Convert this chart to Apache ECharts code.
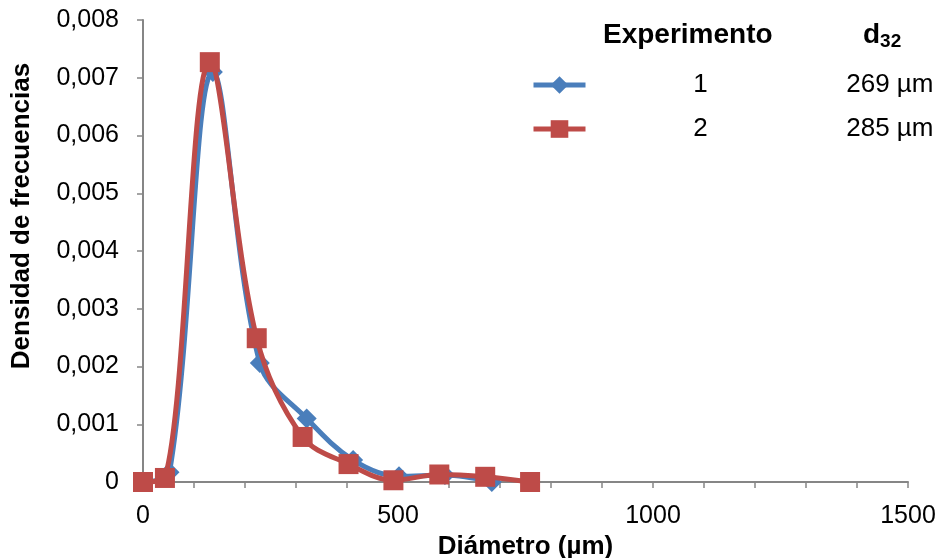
<!DOCTYPE html>
<html>
<head>
<meta charset="utf-8">
<script src="https://cdn.jsdelivr.net/npm/echarts@6/dist/echarts.min.js"></script>
<style>
  html, body { margin: 0; padding: 0; background: #fff; }
  #chart { width: 942px; height: 558px; }
</style>
</head>
<body>
<div id="chart"></div>
<script>
// data
var exp1X = [0, 52, 137, 229, 321, 412, 502, 592, 684];
var exp1Y = [0, 0.00017, 0.0071, 0.00206, 0.0011, 0.00038, 0.0001, 0.00012, 0];
var exp2X = [0, 43, 131, 223, 313, 403, 491, 581, 671, 759];
var exp2Y = [0, 0.00007, 0.00727, 0.00249, 0.00078, 0.00031, 0.00003, 0.00013, 0.00009, 0];
var expNames = ['1', '2'];
var d32Values = ['269 µm', '285 µm'];
var xLabels = [0, 500, 1000, 1500];

function pairs(xs, ys) {
    var out = [];
    for (var i = 0; i < xs.length; i++) {
        out.push([xs[i], ys[i]]);
    }
    return out;
}

var chart = echarts.init(document.getElementById('chart'));
var font = 'Liberation Sans, Arial, sans-serif';

var option = {
    backgroundColor: '#fff',
    animation: false,
    grid: { left: 143, right: 34, top: 20, bottom: 76, outerBoundsMode: 'none' },
    xAxis: {
        type: 'value',
        min: 0,
        max: 1500,
        interval: 100,
        name: 'Diámetro (µm)',
        nameLocation: 'middle',
        nameGap: 40,
        nameTextStyle: { fontFamily: font, fontSize: 26, fontWeight: 'bold', color: '#000' },
        axisLine: { lineStyle: { color: '#868686', width: 2 } },
        axisTick: { show: true, length: 6, lineStyle: { color: '#868686', width: 1.5 } },
        axisLabel: {
            margin: 22,
            fontFamily: font, fontSize: 25, color: '#000',
            formatter: function (v) {
                return xLabels.indexOf(v) >= 0 ? String(v) : '';
            }
        },
        splitLine: { show: false }
    },
    yAxis: {
        type: 'value',
        min: 0,
        max: 0.008,
        interval: 0.001,
        name: 'Densidad de frecuencias',
        nameLocation: 'middle',
        nameGap: 108,
        nameTextStyle: {
            fontFamily: font, fontSize: 26, fontWeight: 'bold', color: '#000',
            padding: [0, 0, 0, 70]
        },
        axisLine: { show: true, lineStyle: { color: '#868686', width: 2 } },
        axisTick: { show: true, length: 6, lineStyle: { color: '#868686', width: 1.5 } },
        axisLabel: {
            margin: 24,
            fontFamily: font, fontSize: 25, color: '#000',
            formatter: function (v) {
                if (v === 0) return '0';
                return v.toFixed(3).replace('.', ',');
            }
        },
        splitLine: { show: false }
    },
    legend: {
        orient: 'vertical',
        left: 531,
        top: 72,
        padding: 0,
        itemWidth: 52,
        itemHeight: 22,
        itemGap: 18,
        data: expNames,
        lineStyle: { width: 5 },
        textStyle: {
            fontFamily: font, fontSize: 26, color: '#000',
            rich: {
                n: { width: 220, align: 'center', fontFamily: font, fontSize: 26, color: '#000' },
                d: { width: 123, align: 'right', fontFamily: font, fontSize: 26, color: '#000' }
            }
        },
        formatter: function (name) {
            var i = expNames.indexOf(name);
            return '{n|' + name + '}{d|' + d32Values[i] + '}';
        }
    },
    graphic: [
        {
            type: 'text', left: 603, top: 21,
            style: { text: 'Experimento', font: 'bold 28px ' + font, fill: '#000' }
        },
        {
            type: 'text', left: 863, top: 21,
            style: {
                text: '{a|d}{b|32}',
                rich: {
                    a: { font: 'bold 28px ' + font, fill: '#000' },
                    b: { font: 'bold 19px ' + font, fill: '#000', padding: [14, 0, 0, 0] }
                }
            }
        }
    ],
    series: [
        {
            name: expNames[0],
            type: 'line',
            smooth: 0.35,
            data: pairs(exp1X, exp1Y),
            symbol: 'diamond',
            symbolSize: 20,
            lineStyle: { color: '#4a7ebb', width: 5 },
            itemStyle: { color: '#4a7ebb' },
            z: 2
        },
        {
            name: expNames[1],
            type: 'line',
            smooth: 0.35,
            data: pairs(exp2X, exp2Y),
            symbol: 'rect',
            symbolSize: 20,
            lineStyle: { color: '#be4b48', width: 5 },
            itemStyle: { color: '#be4b48' },
            z: 3
        }
    ]
};

chart.setOption(option);
</script>
</body>
</html>
